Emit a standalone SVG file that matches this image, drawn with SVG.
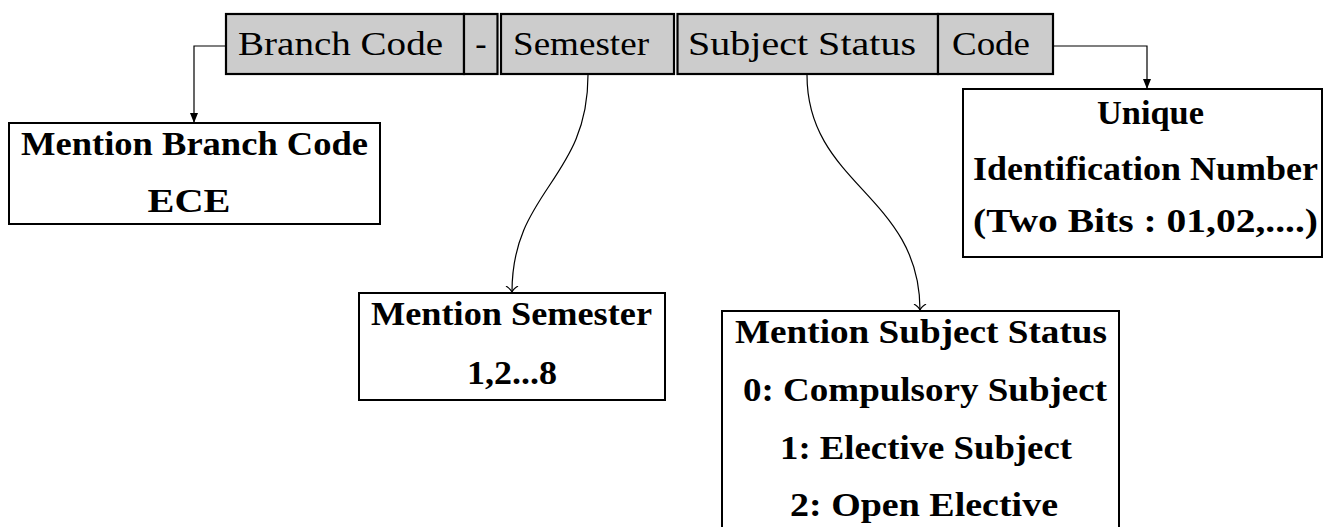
<svg xmlns="http://www.w3.org/2000/svg" width="1324" height="527" viewBox="0 0 1324 527">
<defs>
<style>
.bar{fill:#cccccc;stroke:#000;stroke-width:2.2}
.box{fill:#fff;stroke:#000;stroke-width:2}
.t{font-family:"Liberation Serif","Times New Roman",serif;font-size:34px;fill:#000;text-anchor:middle}
.b{font-weight:bold}
.c{fill:none;stroke:#000;stroke-width:1.2}
</style>
<marker id="tri" viewBox="0 0 10 10" refX="10" refY="5" markerWidth="10" markerHeight="10" markerUnits="userSpaceOnUse" orient="auto">
<path d="M0,1 L10,5 L0,9 Z" fill="#000"/>
</marker>
<marker id="to" viewBox="0 0 7 14" refX="6.5" refY="7" markerWidth="7" markerHeight="14" markerUnits="userSpaceOnUse" orient="auto">
<path d="M0.5,1 C2.5,4 4.5,6.3 6.5,7 C4.5,7.7 2.5,10 0.5,13" fill="none" stroke="#000" stroke-width="1.2"/>
</marker>
</defs>
<rect width="1324" height="527" fill="#fff"/>
<g id="connectors">
<path class="c" d="M226,46 H194 V123" marker-end="url(#tri)"/>
<path class="c" d="M1053,46 H1147 V89" marker-end="url(#tri)"/>
<path class="c" d="M588,75 C588,180 512,190 512,292" marker-end="url(#to)"/>
<path class="c" d="M807,75 C807,185 920,195 920,310" marker-end="url(#to)"/>
</g>
<g id="bar-branch">
<rect class="bar" x="226" y="14" width="238" height="60"/>
<text class="t" x="340.5" y="55" textLength="205" lengthAdjust="spacingAndGlyphs">Branch Code</text>
</g>
<g id="bar-dash">
<rect class="bar" x="464" y="14" width="33.5" height="60"/>
<text class="t" x="481" y="55">-</text>
</g>
<g id="bar-semester">
<rect class="bar" x="501" y="14" width="173" height="60"/>
<text class="t" x="581" y="55" textLength="136" lengthAdjust="spacingAndGlyphs">Semester</text>
</g>
<g id="bar-status">
<rect class="bar" x="677.5" y="14" width="260.5" height="60"/>
<text class="t" x="802" y="55" textLength="228" lengthAdjust="spacingAndGlyphs">Subject Status</text>
</g>
<g id="bar-code">
<rect class="bar" x="938" y="14" width="115" height="60"/>
<text class="t" x="991" y="55" textLength="78" lengthAdjust="spacingAndGlyphs">Code</text>
</g>
<g id="node-branch">
<rect class="box" x="9" y="123" width="371" height="101"/>
<text class="t b" x="194.5" y="155" textLength="347" lengthAdjust="spacingAndGlyphs">Mention Branch Code</text>
<text class="t b" x="189" y="212" textLength="83" lengthAdjust="spacingAndGlyphs">ECE</text>
</g>
<g id="node-semester">
<rect class="box" x="359" y="293" width="306" height="107"/>
<text class="t b" x="511.5" y="325" textLength="281" lengthAdjust="spacingAndGlyphs">Mention Semester</text>
<text class="t b" x="512" y="384" textLength="90" lengthAdjust="spacingAndGlyphs">1,2...8</text>
</g>
<g id="node-status">
<rect class="box" x="722" y="311" width="397" height="240"/>
<text class="t b" x="921" y="343" textLength="372" lengthAdjust="spacingAndGlyphs">Mention Subject Status</text>
<text class="t b" x="925" y="401" textLength="364" lengthAdjust="spacingAndGlyphs">0: Compulsory Subject</text>
<text class="t b" x="926" y="459" textLength="292" lengthAdjust="spacingAndGlyphs">1: Elective Subject</text>
<text class="t b" x="924" y="516" textLength="268" lengthAdjust="spacingAndGlyphs">2: Open Elective</text>
</g>
<g id="node-code">
<rect class="box" x="963" y="89" width="359" height="168"/>
<text class="t b" x="1150.5" y="124" textLength="107" lengthAdjust="spacingAndGlyphs">Unique</text>
<text class="t b" x="1145.5" y="180" textLength="345" lengthAdjust="spacingAndGlyphs">Identification Number</text>
<text class="t b" x="1145.5" y="232" textLength="345" lengthAdjust="spacingAndGlyphs">(Two Bits : 01,02,....)</text>
</g>
</svg>
